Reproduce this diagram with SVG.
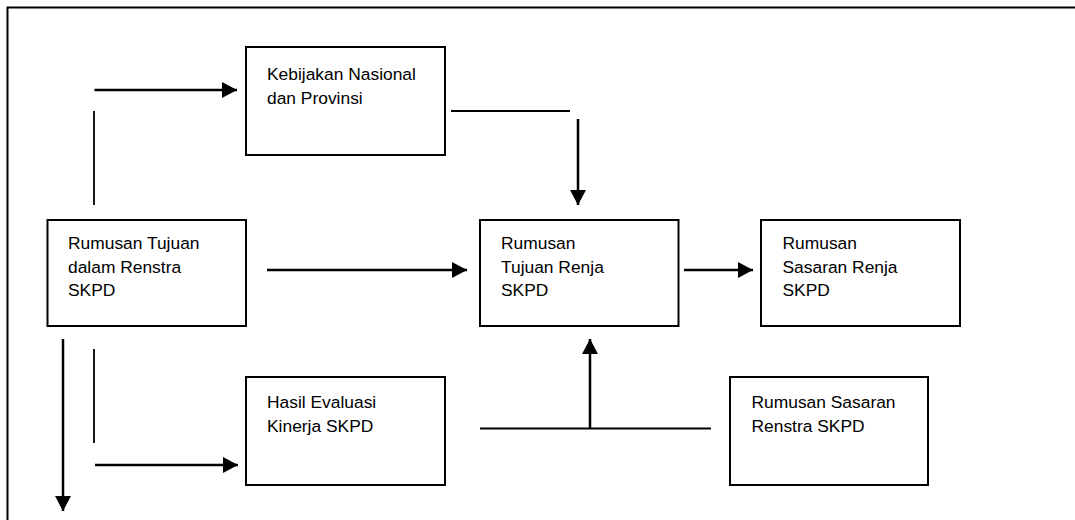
<svg xmlns="http://www.w3.org/2000/svg" width="1075" height="520" viewBox="0 0 1075 520">
<defs>
<style>
.box{fill:#fff;stroke:#000;stroke-width:2}
.lbl{font-family:"Liberation Sans",Arial,sans-serif;font-size:17.4px;fill:#000}
.arr{stroke:#000;stroke-width:2.5;fill:none}
.ln{stroke:#000;stroke-width:1.8;fill:none}
.frame{stroke:#000;stroke-width:2;fill:none}
</style>
<marker id="ah" markerWidth="16" markerHeight="16" viewBox="0 0 16 16" refX="15" refY="8" orient="auto" markerUnits="userSpaceOnUse">
<path d="M0,0 L15,8 L0,16 Z" fill="#000"/>
</marker>
</defs>
<rect width="1075" height="520" fill="#fff"/>
<path class="frame" d="M7.5,520 V7.5 H1075"/>

<g id="n-kebijakan">
<rect class="box" x="246" y="47" width="199" height="108"/>
<text class="lbl" x="267" y="80">Kebijakan Nasional</text>
<text class="lbl" x="267" y="104">dan Provinsi</text>
</g>
<g id="n-tujuan-renstra">
<rect class="box" x="47.5" y="220" width="198.5" height="106"/>
<text class="lbl" x="68" y="249">Rumusan Tujuan</text>
<text class="lbl" x="68" y="272.5">dalam Renstra</text>
<text class="lbl" x="68" y="296">SKPD</text>
</g>
<g id="n-tujuan-renja">
<rect class="box" x="480" y="220" width="198.5" height="106"/>
<text class="lbl" x="501" y="249">Rumusan</text>
<text class="lbl" x="501" y="272.5">Tujuan Renja</text>
<text class="lbl" x="501" y="296">SKPD</text>
</g>
<g id="n-sasaran-renja">
<rect class="box" x="761" y="220" width="199" height="106"/>
<text class="lbl" x="782.5" y="249">Rumusan</text>
<text class="lbl" x="782.5" y="272.5">Sasaran Renja</text>
<text class="lbl" x="782.5" y="296">SKPD</text>
</g>
<g id="n-hasil">
<rect class="box" x="246" y="377" width="199" height="108"/>
<text class="lbl" x="267" y="408">Hasil Evaluasi</text>
<text class="lbl" x="267" y="432">Kinerja SKPD</text>
</g>
<g id="n-sasaran-renstra">
<rect class="box" x="730" y="377" width="198" height="108"/>
<text class="lbl" x="751.5" y="408">Rumusan Sasaran</text>
<text class="lbl" x="751.5" y="432">Renstra SKPD</text>
</g>

<g id="connectors">
<line class="ln" x1="94" y1="111" x2="94" y2="205"/>
<line class="arr" x1="94.5" y1="90" x2="237" y2="90" marker-end="url(#ah)"/>
<line class="ln" x1="451" y1="111" x2="570" y2="111"/>
<line class="arr" x1="578" y1="119" x2="578" y2="205" marker-end="url(#ah)"/>
<line class="arr" x1="267" y1="270" x2="467" y2="270" marker-end="url(#ah)"/>
<line class="arr" x1="684" y1="270" x2="753" y2="270" marker-end="url(#ah)"/>
<line class="arr" x1="63" y1="339" x2="63" y2="511" marker-end="url(#ah)"/>
<line class="ln" x1="94" y1="349" x2="94" y2="443"/>
<line class="arr" x1="95" y1="465" x2="238" y2="465" marker-end="url(#ah)"/>
<line class="ln" x1="480" y1="428.5" x2="711" y2="428.5"/>
<line class="arr" x1="590" y1="428.5" x2="590" y2="339" marker-end="url(#ah)"/>
</g>
</svg>
